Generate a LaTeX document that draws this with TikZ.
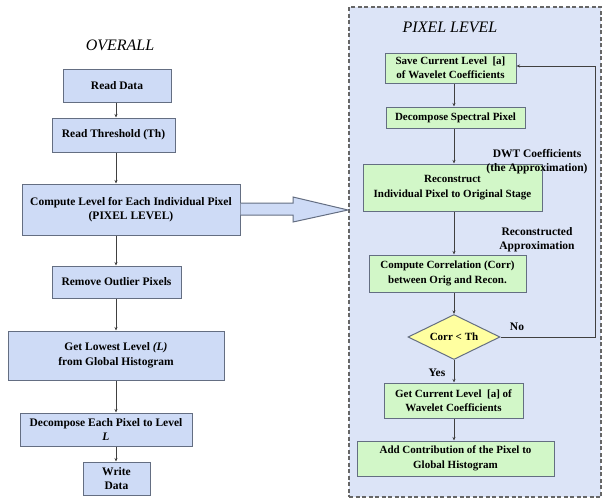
\documentclass[tikz,border=0pt]{standalone}
\usepackage{fontspec}
\setmainfont{Liberation Serif}
\usetikzlibrary{shapes.geometric,arrows.meta}
\definecolor{boxblue}{RGB}{206,219,246}
\definecolor{panelblue}{RGB}{220,228,247}
\definecolor{boxgreen}{RGB}{210,247,200}
\definecolor{dmyellow}{RGB}{255,255,160}
\definecolor{edge}{RGB}{100,110,130}
\tikzset{
  bluebox/.style={draw=edge, line width=1pt, fill=boxblue, align=center, inner sep=1pt, font=\fontsize{11.5}{14.5}\selectfont\bfseries},
  greenbox/.style={draw=edge, line width=1pt, fill=boxgreen, align=center, inner sep=1pt, font=\fontsize{11}{14.5}\selectfont\bfseries},
  conn/.style={draw=black!75, line width=0.8pt, -{Stealth[length=3.5pt,width=3pt]}},
  lbl/.style={align=center, font=\fontsize{11.5}{13.5}\selectfont\bfseries},
  ttl/.style={font=\fontsize{16}{19}\selectfont\itshape}
}
\begin{document}
\begin{tikzpicture}[x=1pt,y=-1pt]
\useasboundingbox (0,0) rectangle (603,498);
% panel
\node[draw=black!60, dash pattern=on 4pt off 2.5pt, line width=1.1pt, fill=panelblue, minimum width=252pt, minimum height=490pt, inner sep=0pt] (panel) at (475,252) {};
% titles
\node[ttl] (t1) at (120,45) {OVERALL};
\node[ttl] (t2) at (450,27) {PIXEL LEVEL};
% left column
\coordinate (sp) at (116,0);
\node[bluebox, minimum width=108pt, minimum height=33pt] (rd) at (117,85.5) {Read Data};
\node[bluebox, minimum width=123pt, minimum height=34pt] (rt) at (113.5,135) {Read Threshold (Th)};
\node[bluebox, minimum width=218pt, minimum height=51pt] (cl) at (131,209.5) {Compute Level for Each Individual Pixel\\(PIXEL LEVEL)};
\node[bluebox, minimum width=129pt, minimum height=32pt] (ro) at (116.5,282) {Remove Outlier Pixels};
\node[bluebox, minimum width=216pt, minimum height=49pt] (gl) at (116,355.5) {Get Lowest Level \textit{(L)}\\from Global Histogram};
\node[bluebox, minimum width=172pt, minimum height=33pt] (de) at (106,429.5) {Decompose Each Pixel to Level\\\textit{L}};
\node[bluebox, minimum width=67pt, minimum height=33pt] (wd) at (116.5,478.5) {Write\\Data};
\draw[conn] (rd.south -| sp) -- (rt.north -| sp);
\draw[conn] (rt.south -| sp) -- (cl.north -| sp);
\draw[conn] (cl.south -| sp) -- (ro.north -| sp);
\draw[conn] (ro.south -| sp) -- (gl.north -| sp);
\draw[conn] (gl.south -| sp) -- (de.north -| sp);
\draw[conn] (de.south -| sp) -- (wd.north -| sp);
% hollow arrow from (cl) into the panel
\coordinate (hat) at (348,210);
\draw[draw=edge, line width=1pt, fill=boxblue]
  (cl.east |- 0,203) -- (293,203) -- (293,197) -- (hat) -- (293,222) -- (293,215) -- (cl.east |- 0,215);
% right column
\coordinate (rp) at (454,0);
\node[greenbox, minimum width=131pt, minimum height=30pt] (s1) at (450.5,68) {Save Current Level \ [a]\\of Wavelet Coefficients};
\node[greenbox, minimum width=139pt, minimum height=21pt] (s2) at (455.5,117.5) {Decompose Spectral Pixel};
\node[greenbox, minimum width=179pt, minimum height=47pt] (s3) at (452.5,187.5) {Reconstruct\\Individual Pixel to Original Stage};
\node[greenbox, minimum width=157pt, minimum height=37pt] (s4) at (447.5,273.5) {Compute Correlation (Corr)\\between Orig and Recon.};
\node[draw=edge, line width=1pt, fill=dmyellow, diamond, aspect=2.05, minimum width=92pt, minimum height=45pt, inner sep=0pt, font=\fontsize{11}{13}\selectfont\bfseries] (dm) at (454,337) {Corr < Th};
\node[greenbox, minimum width=139pt, minimum height=35pt] (s5) at (453.5,400.5) {Get Current Level \ [a] of\\Wavelet Coefficients};
\node[greenbox, minimum width=197pt, minimum height=35pt] (s6) at (455.5,458.5) {Add Contribution of the Pixel to\\Global Histogram};
\draw[conn] (s1.south -| rp) -- (s2.north -| rp);
\draw[conn] (s2.south -| rp) -- (s3.north -| rp);
\draw[conn] (s3.south -| rp) -- (s4.north -| rp);
\draw[conn] (s4.south -| rp) -- (dm.north);
\draw[conn] (dm.south) -- (s5.north -| rp);
\draw[conn] (s5.south -| rp) -- (s6.north -| rp);
\coordinate (fb) at (595,66);
\draw[conn] (dm.east) -- (dm.east -| fb) -- (fb) -- (s1.east |- fb);
% labels
\node[lbl] (l1) at (537,161.5) {DWT Coefficients\\(the Approximation)};
\node[lbl] (l2) at (537,239.5) {Reconstructed\\Approximation};
\node[lbl] (l3) at (517,327) {No};
\node[lbl] (l4) at (437,373) {Yes};
\end{tikzpicture}
\end{document}
